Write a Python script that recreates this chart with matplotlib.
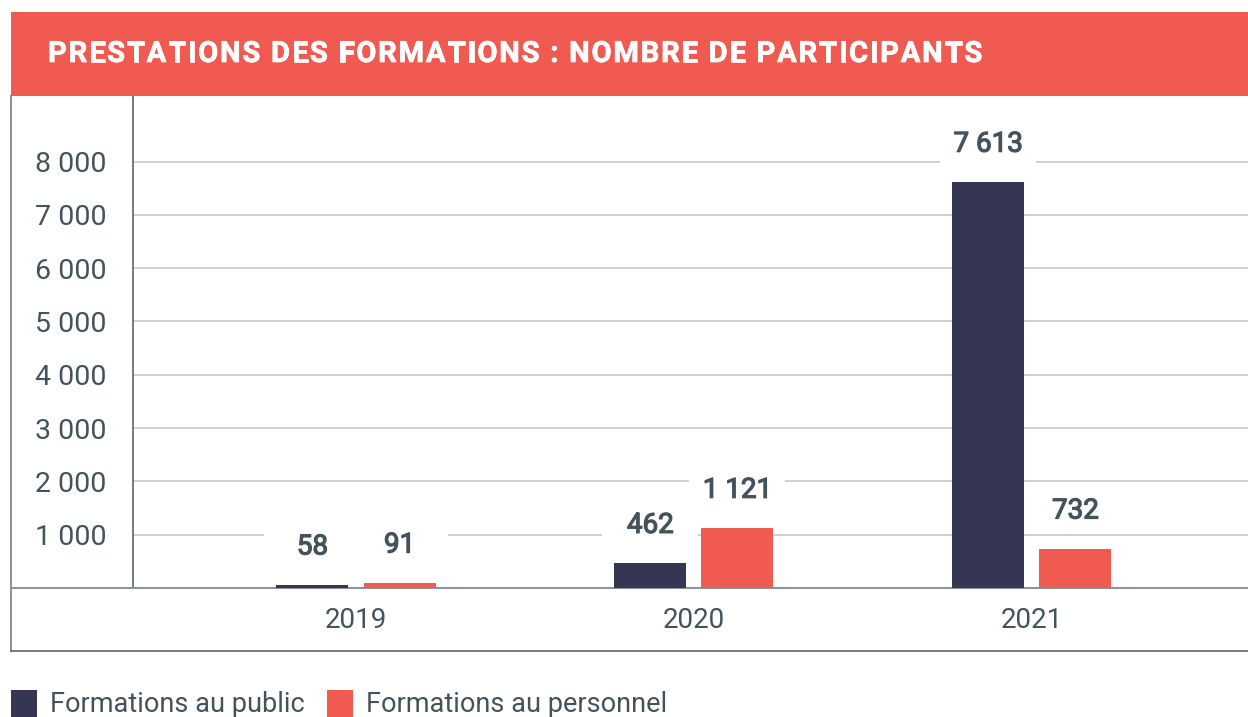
import matplotlib
matplotlib.use('Agg')
import matplotlib.pyplot as plt
import matplotlib.transforms as mtrans
import matplotlib.patheffects as pe
from matplotlib.patches import Rectangle
from matplotlib.lines import Line2D
import numpy as np

years = ['2019', '2020', '2021']
public = [58, 462, 7613]
personnel = [91, 1121, 732]
labels_public = ['58', '462', '7 613']
labels_personnel = ['91', '1 121', '732']
yticks = [1000, 2000, 3000, 4000, 5000, 6000, 7000, 8000]
ytick_labels = ['1 000', '2 000', '3 000', '4 000', '5 000', '6 000', '7 000', '8 000']
title = 'PRESTATIONS DES FORMATIONS : NOMBRE DE PARTICIPANTS'
legend_names = ['Formations au public', 'Formations au personnel']

NAVY = '#343654'
RED = '#F05A50'
TXT = '#44525c'
GRID = '#c3cad0'
AX = '#8a959e'

plt.rcParams['font.family'] = ['Roboto', 'DejaVu Sans']

W, H = 1248, 717
fig = plt.figure(figsize=(W / 100, H / 100), dpi=100)

def fx(px):
	return px / W

def fy(py):
	return 1 - py / H

# title band
fig.patches.append(Rectangle((fx(11), fy(96)), fx(1248) - fx(11), fy(12) - fy(96),
	transform=fig.transFigure, facecolor=RED, edgecolor='none', zorder=0))

# title drawn char by char to get the wide tracking
renderer = fig.canvas.get_renderer()
xpos = 48
track = 1.75
thick = [pe.Stroke(linewidth=0.5, foreground='white'), pe.Normal()]
for ch in title:
	t = fig.text(fx(xpos), fy(54), ch, color='white', fontsize=21, fontweight='bold',
		va='center', ha='left', path_effects=thick)
	if ch == ' ':
		p1 = fig.text(0, 0, 'a a', fontsize=21, fontweight='bold')
		p2 = fig.text(0, 0, 'aa', fontsize=21, fontweight='bold')
		w = p1.get_window_extent(renderer).width - p2.get_window_extent(renderer).width
		p1.remove()
		p2.remove()
	else:
		w = t.get_window_extent(renderer).width
	xpos += w + track

# frame lines
fig.lines.append(Line2D([fx(11), fx(11)], [fy(96), fy(651)], transform=fig.transFigure,
	color=AX, lw=1.5))
fig.lines.append(Line2D([fx(11), fx(1248)], [fy(651), fy(651)], transform=fig.transFigure,
	color='#5a656e', lw=1.2))
fig.lines.append(Line2D([fx(11), fx(133)], [fy(588), fy(588)], transform=fig.transFigure,
	color=AX, lw=1.5))

ax = fig.add_axes([fx(133), fy(588), fx(1248) - fx(133), fy(96) - fy(588)])
x = np.arange(len(years))
bw = 0.213
off = 0.129
ax.bar(x - off, public, bw, color=NAVY, zorder=3)
ax.bar(x + off, personnel, bw, color=RED, zorder=3)

ax.set_xlim(-0.66, 2.64)
ax.set_ylim(0, 9230)
ax.set_yticks(yticks)
ax.set_yticklabels(ytick_labels)
ax.set_xticks(x)
ax.set_xticklabels(years)
ax.tick_params(axis='y', length=0, pad=19, labelsize=20.5, labelcolor=TXT)
ax.tick_params(axis='x', length=0, pad=14, labelsize=20, labelcolor=TXT)
ax.grid(axis='y', color=GRID, lw=1.2, zorder=1)
for s in ['top', 'right']:
	ax.spines[s].set_visible(False)
ax.spines['left'].set_color('#5a656e')
ax.spines['left'].set_linewidth(1.2)
ax.spines['bottom'].set_color(AX)
ax.spines['bottom'].set_linewidth(1.5)

# value labels with white boxes hiding the grid
lift = mtrans.ScaledTranslation(0, 38 / 100, fig.dpi_scale_trans)
medium = [pe.Stroke(linewidth=0.9, foreground=TXT), pe.Normal()]
for xs, vals, labs in [(x - off, public, labels_public), (x + off, personnel, labels_personnel)]:
	for xi, v, lab in zip(xs, vals, labs):
		ax.add_patch(Rectangle((xi - 0.142, v - 380), 0.284, 760, transform=ax.transData + lift,
			facecolor='white', edgecolor='none', zorder=2, clip_on=False))
		ax.annotate(lab, (xi, v), xytext=(0, 38 * 0.72), textcoords='offset points',
			ha='center', va='center', fontsize=20, color=TXT, zorder=4, path_effects=medium)

# legend
for name, col, px in zip(legend_names, [NAVY, RED], [11, 327]):
	fig.patches.append(Rectangle((fx(px), fy(717)), fx(26), fy(690) - fy(717),
		transform=fig.transFigure, facecolor=col, edgecolor='none'))
	fig.text(fx(px + 39), fy(704), name, color=TXT, fontsize=19.5, va='center', ha='left')

fig.savefig('out.png', dpi=100)
